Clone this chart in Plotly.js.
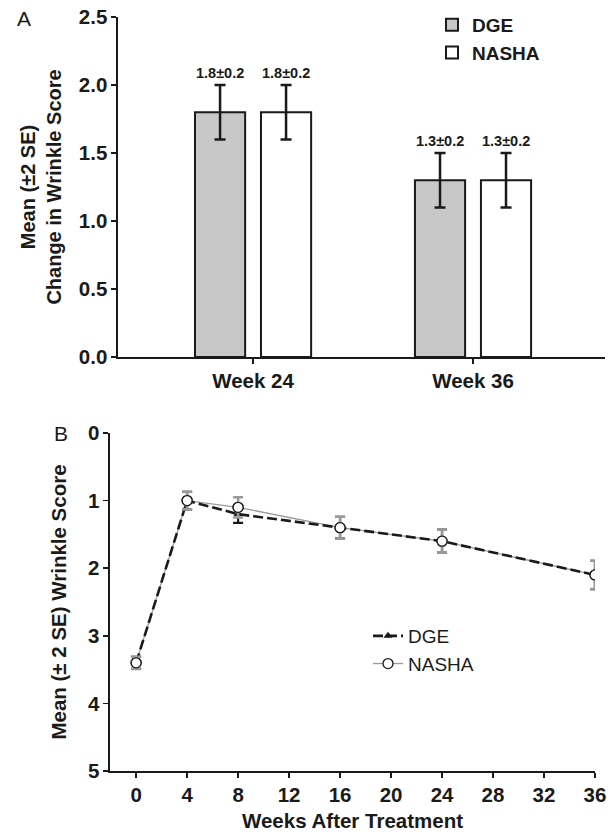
<!DOCTYPE html>
<html>
<head>
<meta charset="utf-8">
<script src="https://cdn.plot.ly/plotly-3.0.1.min.js"></script>
<style>html,body{margin:0;padding:0;background:#fff;}#chart{width:610px;height:833px;}</style>
</head>
<body>
<div id="chart"></div>
<script>
// ---- Panel A data ----
const categoriesA = ['Week 24', 'Week 36'];
const dgeChange = [1.8, 1.3];
const dgeChangeErr = [0.2, 0.2];
const nashaChange = [1.8, 1.3];
const nashaChangeErr = [0.2, 0.2];
const yTicksA = [0, 0.5, 1.0, 1.5, 2.0, 2.5];

// ---- Panel B data ----
const weeks = [0, 4, 8, 16, 24, 36];
const dgeScore = [3.4, 1.0, 1.2, 1.4, 1.6, 2.1];
const dgeScoreErr = [0.09, 0.13, 0.13, 0.16, 0.17, 0.21];
const nashaScore = [3.4, 1.0, 1.1, 1.4, 1.6, 2.1];
const nashaScoreErr = [0.09, 0.13, 0.15, 0.16, 0.17, 0.21];
const xTicksB = [0, 4, 8, 12, 16, 20, 24, 28, 32, 36];
const yTicksB = [0, 1, 2, 3, 4, 5];

const W = 610, H = 833;
const px = v => v / W;
const py = v => 1 - v / H;

const FONT = 'Liberation Sans, Arial, Helvetica, sans-serif';
const INK = '#1a1a1a';
const boldFont = (s) => ({family: FONT, size: s, color: INK, weight: 'bold'});

const BARGAP = 0.4, BARGROUPGAP = 0.24;
const slot = (1 - BARGAP) / 2;   // width of each bar slot in category units

const fmt = (v, e) => v.toFixed(1) + '±' + e.toFixed(1);

const traces = [
  {
    type: 'bar', name: 'DGE', x: categoriesA, y: dgeChange,
    xaxis: 'x', yaxis: 'y', legend: 'legend',
    marker: {color: '#c8c8c9', line: {color: INK, width: 2}},
    error_y: {type: 'data', array: dgeChangeErr, color: INK, thickness: 2.5, width: 5.5},
    hoverinfo: 'skip'
  },
  {
    type: 'bar', name: 'NASHA', x: categoriesA, y: nashaChange,
    xaxis: 'x', yaxis: 'y', legend: 'legend',
    marker: {color: '#ffffff', line: {color: INK, width: 2}},
    error_y: {type: 'data', array: nashaChangeErr, color: INK, thickness: 2.5, width: 5.5},
    hoverinfo: 'skip'
  },
  // Panel B: NASHA line (drawn first, underneath)
  {
    type: 'scatter', mode: 'lines+markers', name: 'NASHA', x: weeks, y: nashaScore,
    xaxis: 'x2', yaxis: 'y2', legend: 'legend2', legendrank: 2,
    line: {color: '#9a9a9a', width: 1.3},
    marker: {symbol: 'circle', size: 10, color: '#ffffff', line: {color: INK, width: 1.3}},
    hoverinfo: 'skip'
  },
  {
    type: 'scatter', mode: 'lines+markers', name: 'DGE', x: weeks, y: dgeScore,
    xaxis: 'x2', yaxis: 'y2', legend: 'legend2', legendrank: 1,
    line: {color: INK, width: 2.6, dash: '10px,4px'},
    marker: {symbol: 'triangle-up', size: 8, color: INK},
    error_y: {type: 'data', array: dgeScoreErr, color: INK, thickness: 2.2, width: 5},
    hoverinfo: 'skip'
  },
  // NASHA markers + error bars on top
  {
    type: 'scatter', mode: 'markers', name: 'NASHA', x: weeks, y: nashaScore,
    xaxis: 'x2', yaxis: 'y2', showlegend: false,
    marker: {symbol: 'circle', size: 10, color: '#ffffff', line: {color: INK, width: 1.3}},
    error_y: {type: 'data', array: nashaScoreErr, color: '#999999', thickness: 2.6, width: 5},
    hoverinfo: 'skip'
  }
];

const annotations = [];
categoriesA.forEach((c, i) => {
  annotations.push({
    xref: 'x', yref: 'y', x: i - slot / 2, y: dgeChange[i] + dgeChangeErr[i],
    text: fmt(dgeChange[i], dgeChangeErr[i]), showarrow: false,
    yanchor: 'bottom', yshift: 2, font: boldFont(14.5)
  });
  annotations.push({
    xref: 'x', yref: 'y', x: i + slot / 2, y: nashaChange[i] + nashaChangeErr[i],
    text: fmt(nashaChange[i], nashaChangeErr[i]), showarrow: false,
    yanchor: 'bottom', yshift: 2, font: boldFont(14.5)
  });
});
annotations.push({xref: 'paper', yref: 'paper', x: px(24), y: py(18), text: 'A', showarrow: false,
  xanchor: 'center', yanchor: 'middle', font: {family: FONT, size: 21, color: INK}});
annotations.push({xref: 'paper', yref: 'paper', x: px(61), y: py(433), text: 'B', showarrow: false,
  xanchor: 'center', yanchor: 'middle', font: {family: FONT, size: 21, color: INK}});

const axisCommon = {
  showgrid: false, zeroline: false, showline: true, linecolor: INK, linewidth: 1.6,
  ticks: 'outside', ticklen: 5, tickwidth: 1.6, tickcolor: INK,
  tickfont: boldFont(20.5), fixedrange: true
};

const layout = {
  width: W, height: H,
  margin: {l: 0, r: 0, t: 0, b: 0},
  paper_bgcolor: '#ffffff', plot_bgcolor: '#ffffff',
  barmode: 'group', bargap: BARGAP, bargroupgap: BARGROUPGAP,
  showlegend: true,
  xaxis: Object.assign({}, axisCommon, {
    domain: [px(118), px(605)], anchor: 'y', type: 'category',
    range: [-0.614, 1.6], tickvals: categoriesA, ticktext: categoriesA
  }),
  yaxis: Object.assign({}, axisCommon, {
    domain: [py(357), py(17)], anchor: 'x', range: [0, 2.5],
    tickvals: yTicksA, ticktext: yTicksA.map(v => v.toFixed(1)),
    title: {text: 'Mean (±2 SE)<br>Change in Wrinkle Score', font: boldFont(20), standoff: 12}
  }),
  xaxis2: Object.assign({}, axisCommon, {
    domain: [px(110), px(595)], anchor: 'y2', range: [-2.05, 36],
    tickvals: xTicksB,
    title: {text: 'Weeks After Treatment', font: boldFont(20.5), standoff: 8}
  }),
  yaxis2: Object.assign({}, axisCommon, {
    domain: [py(771), py(433)], anchor: 'x2', range: [5, 0],
    tickvals: yTicksB,
    title: {text: 'Mean (± 2 SE) Wrinkle Score', font: boldFont(20.5), standoff: 16}
  }),
  legend: {
    x: px(432), y: py(6), xanchor: 'left', yanchor: 'top',
    font: boldFont(19), bgcolor: 'rgba(0,0,0,0)', tracegroupgap: 0
  },
  legend2: {
    x: px(368), y: py(617), xanchor: 'left', yanchor: 'top',
    font: {family: FONT, size: 19, color: INK}, bgcolor: 'rgba(0,0,0,0)',
    traceorder: 'normal'
  },
  annotations: annotations
};

Plotly.newPlot('chart', traces, layout, {displayModeBar: false, staticPlot: true});
</script>
</body>
</html>
